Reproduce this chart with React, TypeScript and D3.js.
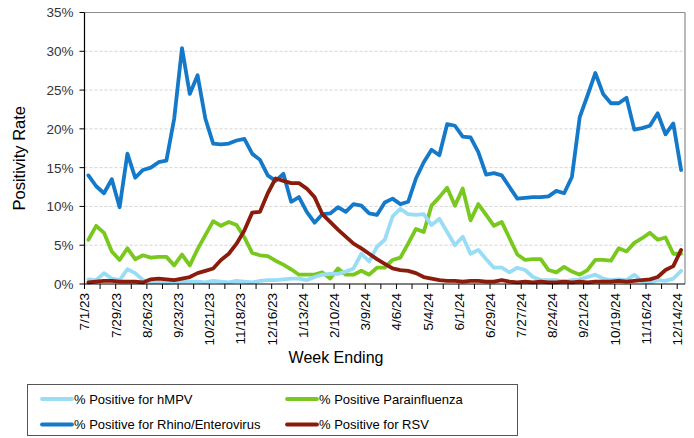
import React from 'react';
import * as d3 from 'd3';

// Weekly positivity (%) - week ending 7/1/23 through 12/14/24
const hmpv = [
  0.6, 0.5, 1.4, 0.7, 0.5, 1.9, 1.4, 0.5, 0.2, 0.2, 0.1, 0.2, 0.3, 0.3, 0.3, 0.2,
  0.4, 0.3, 0.2, 0.4, 0.3, 0.2, 0.4, 0.5, 0.5, 0.6, 0.7, 0.7, 0.5, 0.9, 1.2, 1.3,
  1.3, 1.6, 2.0, 3.9, 2.9, 4.8, 5.7, 8.7, 9.7, 9.0, 8.9, 9.0, 7.6, 8.4, 6.7, 5.0,
  6.1, 3.9, 4.4, 3.2, 2.1, 2.1, 1.5, 2.1, 1.8, 0.9, 0.5, 0.5, 0.5, 0.3, 0.5, 0.6,
  0.9, 1.2, 0.7, 0.5, 0.6, 0.5, 1.2, 0.3, 0.2, 0.5, 0.4, 0.7, 1.7,
];
const parainfluenza = [
  5.7, 7.5, 6.6, 4.2, 3.1, 4.6, 3.2, 3.7, 3.4, 3.5, 3.5, 2.4, 3.8, 2.4, 4.5, 6.3,
  8.1, 7.5, 8.0, 7.6, 6.0, 4.0, 3.7, 3.6, 3.0, 2.5, 1.9, 1.2, 1.2, 1.2, 1.5, 0.7,
  2.0, 1.2, 1.2, 1.7, 1.2, 2.1, 2.1, 3.1, 3.4, 5.2, 7.1, 6.7, 10.1, 11.2, 12.4, 10.1,
  12.3, 8.2, 10.3, 8.9, 7.5, 8.0, 5.9, 3.8, 3.1, 3.2, 3.2, 1.8, 1.5, 2.2, 1.6, 1.2,
  1.8, 3.1, 3.1, 3.0, 4.6, 4.2, 5.3, 5.9, 6.6, 5.7, 6.0, 3.9, 3.9,
];
const rhinoEntero = [
  14.0, 12.6, 11.7, 13.5, 9.9, 16.8, 13.7, 14.7, 15.0, 15.7, 15.9, 21.3, 30.4, 24.5, 26.9, 21.3,
  18.1, 18.0, 18.1, 18.5, 18.7, 16.8, 16.0, 14.0, 13.3, 14.2, 10.6, 11.2, 9.3, 7.9, 9.0, 9.1,
  9.9, 9.3, 10.3, 10.1, 9.1, 8.9, 10.5, 11.0, 10.3, 10.6, 13.6, 15.7, 17.3, 16.6, 20.6, 20.4,
  19.0, 18.9, 17.0, 14.1, 14.3, 14.0, 12.5, 11.0, 11.1, 11.2, 11.2, 11.3, 12.0, 11.7, 13.8, 21.5,
  24.3, 27.2, 24.5, 23.3, 23.3, 24.0, 19.9, 20.1, 20.4, 22.0, 19.3, 20.7, 14.7,
];
const rsv = [
  0.2, 0.3, 0.4, 0.4, 0.3, 0.3, 0.3, 0.2, 0.6, 0.7, 0.6, 0.5, 0.7, 0.9, 1.4, 1.7,
  2.0, 3.1, 3.9, 5.2, 6.9, 9.2, 9.3, 11.7, 13.6, 13.3, 13.0, 13.0, 12.3, 11.2, 9.0, 8.0,
  7.0, 6.1, 5.2, 4.6, 3.9, 3.2, 2.6, 2.0, 1.8, 1.7, 1.4, 0.9, 0.7, 0.5, 0.4, 0.4,
  0.3, 0.4, 0.4, 0.3, 0.3, 0.5, 0.3, 0.2, 0.3, 0.2, 0.3, 0.2, 0.2, 0.3, 0.2, 0.3,
  0.2, 0.3, 0.3, 0.3, 0.4, 0.3, 0.4, 0.5, 0.6, 0.9, 1.8, 2.3, 4.4,
];

// one label every 4 weeks
const xLabels = [
  '7/1/23', '7/29/23', '8/26/23', '9/23/23', '10/21/23', '11/18/23', '12/16/23',
  '1/13/24', '2/10/24', '3/9/24', '4/6/24', '5/4/24', '6/1/24', '6/29/24', '7/27/24',
  '8/24/24', '9/21/24', '10/19/24', '11/16/24', '12/14/24',
];
const yTicks = [0, 5, 10, 15, 20, 25, 30, 35];

const series = [
  { name: '% Positive for hMPV', values: hmpv, color: '#99DCF6' },
  { name: '% Positive Parainfluenza', values: parainfluenza, color: '#78C81E' },
  { name: '% Positive for Rhino/Enterovirus', values: rhinoEntero, color: '#1479C9' },
  { name: '% Positive for RSV', values: rsv, color: '#8A1C0C' },
];
// draw order: rhino underneath, then others
const drawOrder = [2, 1, 0, 3];

const font = '"Liberation Sans", Arial, sans-serif';

const App: React.FC = () => {
  const W = 694;
  const H = 438;
  const left = 84.5;
  const right = 685;
  const top = 12.5;
  const bottom = 284;
  const n = hmpv.length;

  const x = d3.scaleLinear().domain([0, n]).range([left, right]);
  const y = d3.scaleLinear().domain([0, 35]).range([bottom, top]);

  const line = (vals: number[]) =>
    d3
      .line<number>()
      .x((_, i) => x(i + 0.5))
      .y((d) => y(d))(vals) || '';

  const weekTicks = d3.range(0, n, 2);

  return (
    <svg
      width={W}
      height={H}
      style={{ position: 'fixed', left: 0, top: 0, background: '#fff' }}
      fontFamily={font}
    >
      <rect width={W} height={H} fill="#fff" />

      {/* grid */}
      {yTicks
        .filter((t) => t > 0 && t < 35)
        .map((t) => (
          <line
            key={t}
            x1={left}
            x2={right}
            y1={y(t)}
            y2={y(t)}
            stroke="#d4d4d4"
            strokeWidth={1}
            strokeDasharray="3,2"
          />
        ))}

      {/* top / right frame */}
      <line x1={left} x2={right} y1={top} y2={top} stroke="#8c8c8c" strokeWidth={1.2} />
      <line x1={right} x2={right} y1={top} y2={bottom} stroke="#8c8c8c" strokeWidth={1.2} />

      {/* series */}
      {drawOrder.map((k) => (
        <path
          key={series[k].name}
          d={line(series[k].values)}
          fill="none"
          stroke={series[k].color}
          strokeWidth={3.8}
          strokeLinejoin="round"
          strokeLinecap="round"
        />
      ))}

      {/* y axis */}
      <line x1={left} x2={left} y1={top} y2={bottom} stroke="#000" strokeWidth={1.2} />
      {yTicks.map((t) => (
        <g key={t}>
          <line x1={left - 5} x2={left} y1={y(t)} y2={y(t)} stroke="#000" />
          <text
            x={left - 11}
            y={y(t)}
            dy="0.36em"
            textAnchor="end"
            fontSize={13.5}
            fill="#333"
          >
            {t}%
          </text>
        </g>
      ))}

      {/* x axis */}
      <line x1={left} x2={right} y1={bottom} y2={bottom} stroke="#000" strokeWidth={1.2} />
      {weekTicks.map((w) => (
        <line key={w} x1={x(w)} x2={x(w)} y1={bottom} y2={bottom + 5} stroke="#000" />
      ))}
      {xLabels.map((lab, k) => (
        <text
          key={lab}
          transform={`translate(${x(k * 4)},${bottom + 9}) rotate(-90)`}
          dy="0.36em"
          textAnchor="end"
          fontSize={13.5}
          fill="#000"
        >
          {lab}
        </text>
      ))}

      {/* axis titles */}
      <text
        transform={`translate(19,${(top + bottom) / 2 + 10}) rotate(-90)`}
        dy="0.36em"
        textAnchor="middle"
        fontSize={16.5}
        fill="#000"
      >
        Positivity Rate
      </text>
      <text x={336} y={363} textAnchor="middle" fontSize={16} fill="#000">
        Week Ending
      </text>

      {/* legend */}
      <rect x={27.5} y={384.5} width={490} height={51} fill="#fff" stroke="#555" strokeWidth={1} />
      {series.map((s, i) => {
        const col = i % 2;
        const row = Math.floor(i / 2);
        const lx = col === 0 ? 42 : 287;
        const ly = row === 0 ? 399 : 424.5;
        return (
          <g key={s.name}>
            <line
              x1={lx}
              x2={lx + 30}
              y1={ly}
              y2={ly}
              stroke={s.color}
              strokeWidth={3.8}
              strokeLinecap="round"
            />
            <text x={lx + 32} y={ly} dy="0.36em" fontSize={13} fill="#000">
              {s.name}
            </text>
          </g>
        );
      })}
    </svg>
  );
};

export default App;
